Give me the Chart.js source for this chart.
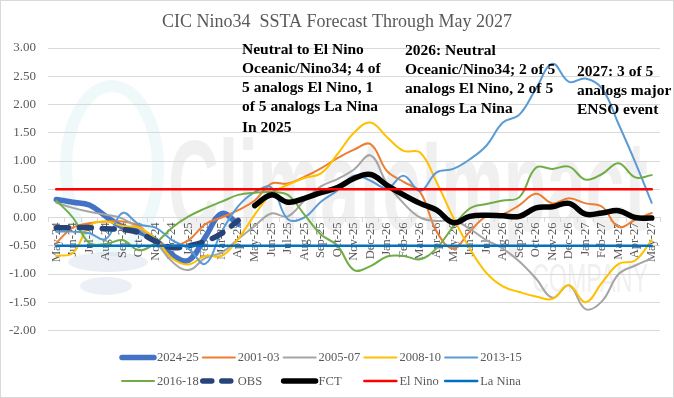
<!DOCTYPE html>
<html>
<head>
<meta charset="utf-8">
<script src="https://cdn.jsdelivr.net/npm/chart.js@4.4.1/dist/chart.umd.min.js"></script>
<style>
    html, body { margin: 0; padding: 0; background: #fff; }
    #chart { display: block; }
</style>
</head>
<body>
<canvas id="chart" width="674" height="398"></canvas>
<script>
const months = ['May-24', 'Jun-24', 'Jul-24', 'Aug-24', 'Sep-24', 'Oct-24', 'Nov-24', 'Dec-24',
    'Jan-25', 'Feb-25', 'Mar-25', 'Apr-25', 'May-25', 'Jun-25', 'Jul-25', 'Aug-25', 'Sep-25', 'Oct-25', 'Nov-25', 'Dec-25',
    'Jan-26', 'Feb-26', 'Mar-26', 'Apr-26', 'May-26', 'Jun-26', 'Jul-26', 'Aug-26', 'Sep-26', 'Oct-26', 'Nov-26', 'Dec-26',
    'Jan-27', 'Feb-27', 'Mar-27', 'Apr-27', 'May-27'];

// y axis range and tick step
const yMin = -2;
const yMax = 3;
const yStep = 0.5;

// SSTA values (deg C), one per month, null = no value
const ssta2024_25 = [0.32, 0.27, 0.22, 0.02, -0.17, -0.25, -0.40, -0.66, -0.76, -0.35, 0.07, -0.12,
    null, null, null, null, null, null, null, null, null, null, null, null, null, null, null, null, null,
    null, null, null, null, null, null, null, null];
const ssta2001_03 = [-0.45, -0.18, -0.10, -0.07, -0.07, -0.15, -0.42, -0.50, -0.40, -0.12, 0.00, 0.13,
    0.30, 0.60, 0.60, 0.72, 0.87, 1.05, 1.20, 1.30,
    0.82, 0.63, 0.45, -0.25, -0.55, -0.25, 0.02, 0.06, 0.22, 0.42, 0.25, 0.34,
    0.25, 0.19, -0.17, -0.04, 0.08];
const ssta2005_07 = [0.26, 0.17, 0.10, 0.05, -0.02, -0.20, -0.43, -0.78, -0.93, -0.72, -0.62, -0.38,
    -0.15, 0.07, 0.02, 0.30, 0.55, 0.68, 0.85, 1.10,
    0.60, 0.25, 0.00, -0.06, -0.05, -0.20, -0.40, -0.55, -0.78, -1.08, -1.42, -1.20,
    -1.62, -1.48, -1.00, -0.85, -0.72];
const ssta2008_10 = [-0.68, -0.63, -0.15, -0.07, -0.15, -0.18, -0.38, -0.72, -0.83, -0.68, -0.68, -0.38,
    0.05, 0.42, 0.58, 0.70, 0.78, 1.12, 1.50, 1.68,
    1.42, 1.18, 1.15, 0.62, 0.00, -0.55, -0.98, -1.22, -1.32, -1.40, -1.44, -1.20,
    -1.50, -1.15, -0.82, -0.76, -0.40];
const ssta2013_15 = [-0.25, -0.25, -0.28, -0.38, 0.08, -0.12, -0.18, -0.40, -0.55, -0.82, -0.25, 0.20,
    0.45, 0.53, -0.03, 0.00, 0.28, 0.48, 0.74, 0.65,
    0.52, 0.74, 0.47, 0.80, 0.86, 1.03, 1.27, 1.68, 1.82, 2.28, 2.72, 2.40,
    2.46, 2.28, 1.65, 0.98, 0.26];
const ssta2016_18 = [0.30, 0.00, -0.45, -0.47, -0.40, -0.58, -0.45, -0.18, 0.02, 0.16, 0.28, 0.40,
    0.44, 0.45, 0.40, 0.05, -0.30, -0.50, -0.93, -0.86,
    -0.69, -0.68, -0.74, -0.54, -0.16, 0.16, 0.24, 0.30, 0.36, 0.88, 0.86, 0.90,
    0.67, 0.77, 0.96, 0.71, 0.75];
const obs = [-0.18, -0.18, -0.18, -0.20, -0.21, -0.27, -0.42, -0.53, -0.50, -0.42, -0.28, -0.05,
    null, null, null, null, null, null, null, null, null, null, null, null, null, null, null, null, null,
    null, null, null, null, null, null, null, null];
const fct = [null, null, null, null, null, null, null, null, null, null, null, null,
    0.21, 0.40, 0.27, 0.34, 0.44, 0.53, 0.69, 0.76,
    0.57, 0.40, 0.25, 0.13, -0.09, 0.02, 0.04, 0.03, 0.02, 0.17, 0.19, 0.25,
    0.06, 0.08, 0.12, 0.00, -0.01];
const elNino = [0.5, 0.5, 0.5, 0.5, 0.5, 0.5, 0.5, 0.5, 0.5, 0.5, 0.5, 0.5, 0.5, 0.5, 0.5, 0.5, 0.5, 0.5, 0.5,
    0.5, 0.5, 0.5, 0.5, 0.5, 0.5, 0.5, 0.5, 0.5, 0.5, 0.5, 0.5, 0.5, 0.5, 0.5, 0.5, 0.5, 0.5];
const laNina = [-0.5, -0.5, -0.5, -0.5, -0.5, -0.5, -0.5, -0.5, -0.5, -0.5, -0.5, -0.5, -0.5, -0.5, -0.5, -0.5, -0.5,
    -0.5, -0.5, -0.5, -0.5, -0.5, -0.5, -0.5, -0.5, -0.5, -0.5, -0.5, -0.5, -0.5, -0.5, -0.5, -0.5, -0.5, -0.5, -0.5, -0.5];

const chartTitle = 'CIC Nino34  SSTA Forecast Through May 2027';
const note2025 = ['Neutral to El Nino', 'Oceanic/Nino34; 4 of', '5 analogs El Nino, 1', 'of 5 analogs La Nina'];
const note2025b = 'In 2025';
const note2026 = ['2026: Neutral', 'Oceanic/Nino34; 2 of 5', 'analogs El Nino, 2 of 5', 'analogs La Nina'];
const note2027 = ['2027: 3 of 5', 'analogs major', 'ENSO event'];

const SERIF = '"Liberation Serif", "Times New Roman", serif';
const GREY_TEXT = '#595959';

function line(label, data, color, width, extra) {
    return Object.assign({
        label: label,
        data: data,
        borderColor: color,
        backgroundColor: color,
        borderWidth: width,
        borderCapStyle: 'round',
        borderJoinStyle: 'round',
        pointRadius: 0,
        pointHoverRadius: 0,
        tension: 0.4,
        fill: false
    }, extra || {});
}

// legend order == Excel series order; later series sit on top
const datasets = [
    line('2024-25', ssta2024_25, '#4472C4', 5.5, { order: 10 }),
    line('2001-03', ssta2001_03, '#ED7D31', 2, { order: 9 }),
    line('2005-07', ssta2005_07, '#A5A5A5', 2, { order: 8 }),
    line('2008-10', ssta2008_10, '#FFC000', 2, { order: 7 }),
    line('2013-15', ssta2013_15, '#5B9BD5', 2, { order: 6 }),
    line('2016-18', ssta2016_18, '#70AD47', 2, { order: 5 }),
    line('OBS', obs, '#264478', 5.5, { order: 4, borderDash: [12, 11] }),
    line('FCT', fct, '#000000', 5.5, { order: 3 }),
    line('El Nino', elNino, '#FF0000', 2.5, { order: 2, tension: 0 }),
    line('La Nina', laNina, '#0070C0', 2.5, { order: 1, tension: 0 })
];

const decor = {
    id: 'decor',
    beforeDraw(chart) {
        const ctx = chart.ctx;
        ctx.save();
        ctx.fillStyle = '#ffffff';
        ctx.fillRect(0, 0, chart.width, chart.height);

        // faint company watermark behind the plot
        ctx.strokeStyle = 'rgba(150, 215, 222, 0.15)';
        ctx.lineWidth = 12;
        ctx.beginPath();
        ctx.ellipse(112, 168, 46, 82, 0, 0, Math.PI * 2);
        ctx.stroke();
        ctx.fillStyle = 'rgba(160, 180, 210, 0.2)';
        ctx.beginPath();
        ctx.ellipse(108, 262, 40, 10, 0, 0, Math.PI * 2);
        ctx.fill();
        ctx.beginPath();
        ctx.ellipse(106, 286, 26, 9, 0, 0, Math.PI * 2);
        ctx.fill();

        ctx.fillStyle = 'rgba(200, 200, 200, 0.28)';
        ctx.font = 'bold 128px "Liberation Sans", Arial, sans-serif';
        ctx.textBaseline = 'alphabetic';
        ctx.textAlign = 'left';
        ctx.fillText('ClimateImpact', 168, 230, 480);
        ctx.font = '40px "Liberation Sans", Arial, sans-serif';
        ctx.fillText('COMPANY', 532, 292, 116);
        ctx.restore();
    },
    afterDraw(chart) {
        const ctx = chart.ctx;
        ctx.save();

        // title
        ctx.fillStyle = GREY_TEXT;
        ctx.font = '18px ' + SERIF;
        ctx.textAlign = 'center';
        ctx.textBaseline = 'middle';
        ctx.fillText(chartTitle, 337, 22);

        // text boxes
        ctx.fillStyle = '#000000';
        ctx.font = 'bold 15.5px ' + SERIF;
        ctx.textAlign = 'left';
        note2025.forEach((t, i) => ctx.fillText(t, 242, 50 + i * 19));
        ctx.fillText(note2025b, 242, 128);
        note2026.forEach((t, i) => ctx.fillText(t, 405, 51 + i * 19.2));
        note2027.forEach((t, i) => ctx.fillText(t, 577, 72 + i * 19.2));

        // legend, two rows of five like the Excel layout
        ctx.font = '12.5px ' + SERIF;
        ctx.textBaseline = 'middle';
        chart.data.datasets.forEach((ds, i) => {
            const x0 = 120 + (i % 5) * 80.8;
            const y0 = i < 5 ? 357.5 : 381;
            ctx.save();
            ctx.strokeStyle = ds.borderColor;
            ctx.lineWidth = ds.borderWidth;
            ctx.lineCap = 'round';
            ctx.setLineDash(ds.borderDash ? [9, 10] : []);
            ctx.beginPath();
            ctx.moveTo(x0 + 2, y0);
            ctx.lineTo(x0 + 34, y0);
            ctx.stroke();
            ctx.restore();
            ctx.fillStyle = GREY_TEXT;
            ctx.fillText(ds.label, x0 + 37, y0 + 0.5);
        });

        // chart border
        ctx.strokeStyle = '#D9D9D9';
        ctx.lineWidth = 1;
        ctx.strokeRect(0.5, 0.5, chart.width - 1, chart.height - 1);
        ctx.restore();
    }
};

new Chart(document.getElementById('chart'), {
    type: 'line',
    data: { labels: months, datasets: datasets },
    plugins: [decor],
    options: {
        responsive: false,
        animation: false,
        devicePixelRatio: 1,
        layout: { padding: { left: 0, right: 14, top: 48, bottom: 67.5 } },
        plugins: {
            legend: { display: false },
            title: { display: false },
            tooltip: { enabled: false }
        },
        scales: {
            x: {
                position: { y: 0 },
                offset: true,
                grid: {
                    offset: true,
                    drawOnChartArea: false,
                    drawTicks: true,
                    tickLength: 4,
                    color: '#D9D9D9'
                },
                border: { display: true, color: '#D9D9D9', width: 1 },
                ticks: {
                    autoSkip: false,
                    minRotation: 90,
                    maxRotation: 90,
                    padding: 1,
                    color: GREY_TEXT,
                    font: { family: SERIF, size: 12.5 }
                }
            },
            y: {
                min: yMin,
                max: yMax,
                afterFit(scale) { scale.width = 48; },
                grid: { color: '#D9D9D9', drawTicks: false },
                border: { display: false },
                ticks: {
                    stepSize: yStep,
                    padding: 12,
                    color: GREY_TEXT,
                    font: { family: SERIF, size: 13 },
                    callback: v => Number(v).toFixed(2)
                }
            }
        }
    }
});
</script>
</body>
</html>
